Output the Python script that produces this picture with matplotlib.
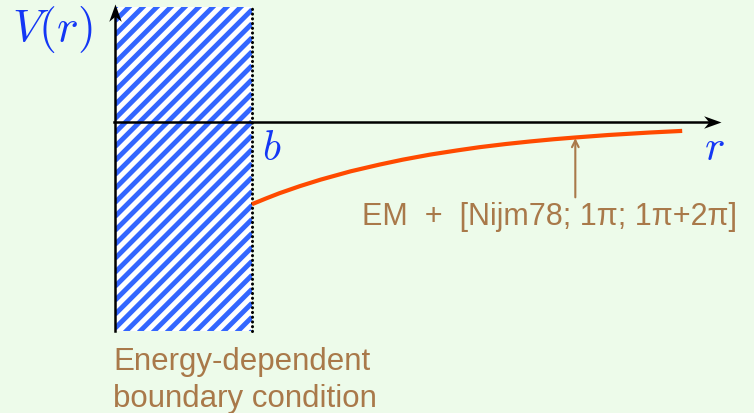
import matplotlib
matplotlib.use("Agg")
import matplotlib.pyplot as plt
import numpy as np
from matplotlib.patches import Rectangle
from matplotlib.path import Path

# potential curve V(r) outside the boundary b (b = 1)
r_vals = [1.0, 1.1, 1.2, 1.35, 1.5, 1.72, 1.93, 2.1, 2.3, 2.5, 2.66, 2.85, 3.03, 3.2, 3.36, 3.6, 3.9, 4.14]
v_vals = [-0.600, -0.559, -0.520, -0.468, -0.421, -0.360, -0.311, -0.275, -0.238, -0.207, -0.184,
          -0.161, -0.142, -0.126, -0.113, -0.095, -0.077, -0.065]

b = 1.0
r_end = 4.42           # tip of r axis
v_top, v_bot = 0.86, -1.526
hatch_top = 0.839
arrow_r = 3.36         # where the annotation arrow hits the curve

lbl_curve = "EM  +  [Nijm78; 1π; 1π+2π]"
lbl_bc = "Energy-dependent\nboundary condition"

bg = "#edfbea"
blue_txt = "#1437f5"
stripe = "#3366ff"
brown = "#a9794a"
red = "#ff4a00"

plt.rcParams["mathtext.fontset"] = "cm"

fig = plt.figure(figsize=(7.54, 4.14), dpi=100, facecolor=bg)
ax = fig.add_axes([0, 0, 1, 1])
ax.set_facecolor(bg)
ax.set_xlim(-115 / 137, 639 / 137)
ax.set_ylim(-291 / 137, 123 / 137)
ax.axis("off")

# striped region r < b
rect = Rectangle((0, v_bot), b, hatch_top - v_bot, facecolor="white", edgecolor="none", zorder=1)
ax.add_patch(rect)
step = 0.102
for c in np.arange(v_bot - b - step, hatch_top + step, step):
    ln, = ax.plot([0, b], [c, c + b], color=stripe, lw=3.5, zorder=2, solid_capstyle="butt")
    ln.set_clip_path(rect)

# dotted boundary
ax.plot([b, b], [v_bot, hatch_top], color="black", lw=2.2, ls=(0, (0.05, 1.5)),
        dash_capstyle="round", zorder=4)

# axes with arrows
ax.plot([-0.01, r_end - 0.05], [0, 0], color="black", lw=1.8, zorder=5)
ax.plot([0, 0], [v_bot, v_top - 0.05], color="black", lw=1.8, zorder=5)
head_r = Path([(0, 0), (-1, 0.36), (-0.7, 0), (-1, -0.36), (0, 0)],
              [Path.MOVETO, Path.LINETO, Path.LINETO, Path.LINETO, Path.CLOSEPOLY])
head_u = Path([(0, 0), (0.36, -1), (0, -0.7), (-0.36, -1), (0, 0)],
              [Path.MOVETO, Path.LINETO, Path.LINETO, Path.LINETO, Path.CLOSEPOLY])
ax.plot([r_end], [0], marker=head_r, ms=25, color="black", mew=0, zorder=6)
ax.plot([0], [v_top], marker=head_u, ms=25, color="black", mew=0, zorder=6)

# the curve
ax.plot(r_vals, v_vals, color=red, lw=3, zorder=5, solid_capstyle="butt")

# labels
ax.text(-0.75, 0.686, r"$V(r)$", color=blue_txt, fontsize=33, ha="left", va="center")
ax.text(1.07, -0.27, r"$b$", color=blue_txt, fontsize=30, ha="left", va="baseline")
ax.text(4.30, -0.27, r"$r$", color=blue_txt, fontsize=31, ha="left", va="baseline")

arrow_v = np.interp(arrow_r, r_vals, v_vals)
ax.annotate("", xy=(arrow_r, arrow_v - 0.005), xytext=(arrow_r, -0.55),
            arrowprops=dict(arrowstyle="->", color=brown, lw=1.5, shrinkA=0, shrinkB=0,
                            mutation_scale=12))
ax.text(3.175, -0.745, lbl_curve, color=brown, fontsize=22, family=["Liberation Sans", "DejaVu Sans"],
        ha="center", va="baseline")
ax.text(-0.015, -2.07, lbl_bc, color=brown, fontsize=22.5, family=["Liberation Sans", "DejaVu Sans"],
        ha="left", va="baseline", linespacing=1.28)

fig.savefig("out.png", dpi=100, facecolor=bg)
